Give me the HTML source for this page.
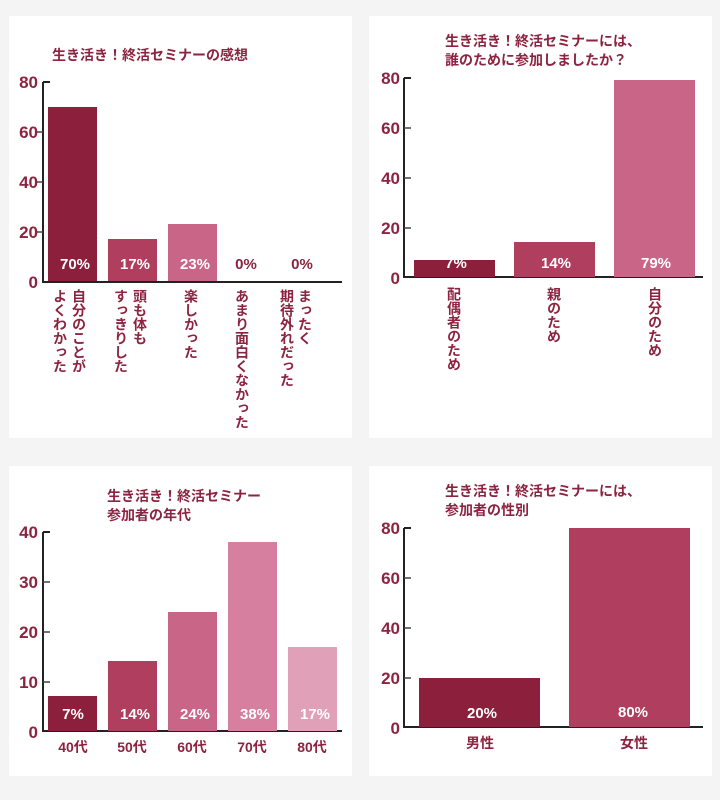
<!DOCTYPE html>
<html><head><meta charset="utf-8"><style>
html,body{margin:0;padding:0;background:#f4f4f4}
svg{display:block}
text{font-family:"Liberation Sans","Noto Sans CJK JP",sans-serif;font-weight:bold}
.t{fill:#8c2340;font-size:14px}
.y{fill:#8c2340;font-size:17px;text-anchor:end}
.p{fill:#fff;font-size:15px;text-anchor:middle}
.v{fill:#8c2340;font-size:14px;writing-mode:vertical-rl;glyph-orientation-vertical:0}
.c{fill:#8c2340;font-size:14px;text-anchor:middle}
</style></head><body>
<svg width="720" height="800" viewBox="0 0 720 800">
<rect x="9" y="16" width="343" height="422" fill="#fff"/>
<rect x="369" y="16" width="343" height="422" fill="#fff"/>
<rect x="9" y="466" width="343" height="310" fill="#fff"/>
<rect x="369" y="466" width="343" height="310" fill="#fff"/>

<!-- Chart 1 -->
<text class="t" x="52" y="60">生き活き！終活セミナーの感想</text>
<g fill="none" stroke="#222" stroke-width="2"><path d="M43,82V282H342"/><path d="M43,82h7" /></g>
<g stroke="#444" stroke-width="1.5"><path d="M37,132h6M37,182h6M37,232h6"/></g>
<text class="y" x="38" y="88">80</text><text class="y" x="38" y="138">60</text><text class="y" x="38" y="188">40</text><text class="y" x="38" y="238">20</text><text class="y" x="38" y="288">0</text>
<rect x="48" y="107" width="49" height="174" fill="#8c1f3c"/>
<rect x="108" y="239" width="49" height="42" fill="#b03e5e"/>
<rect x="168" y="224" width="49" height="57" fill="#c96586"/>
<text class="p" x="75" y="269">70%</text><text class="p" x="135" y="269">17%</text><text class="p" x="195" y="269">23%</text>
<text class="p" x="246" y="269" style="fill:#8c2340">0%</text><text class="p" x="302" y="269" style="fill:#8c2340">0%</text>
<text class="v" x="79" y="289">自分のことが</text>
<text class="v" x="60" y="289">よくわかった</text>
<text class="v" x="140" y="289">頭も体も</text>
<text class="v" x="121" y="289">すっきりした</text>
<text class="v" x="191" y="289">楽しかった</text>
<text class="v" x="242" y="289">あまり面白くなかった</text>
<text class="v" x="305" y="289">まったく</text>
<text class="v" x="287" y="289">期待外れだった</text>

<!-- Chart 2 -->
<text class="t" x="445" y="46">生き活き！終活セミナーには、</text>
<text class="t" x="445" y="65">誰のために参加しましたか？</text>
<g fill="none" stroke="#222" stroke-width="2"><path d="M404,78V277H703"/><path d="M404,78h7"/></g>
<g stroke="#444" stroke-width="1.5"><path d="M404,128h7M404,178h7M404,228h7"/></g>
<text class="y" x="400" y="84">80</text><text class="y" x="400" y="134">60</text><text class="y" x="400" y="184">40</text><text class="y" x="400" y="234">20</text><text class="y" x="400" y="284">0</text>
<rect x="414" y="260" width="81" height="17" fill="#8c1f3c"/>
<rect x="514" y="242" width="81" height="35" fill="#b03e5e"/>
<rect x="614" y="80" width="81" height="197" fill="#c96586"/>
<text class="p" x="456" y="268">7%</text><text class="p" x="556" y="268">14%</text><text class="p" x="656" y="268">79%</text>
<text class="v" x="454" y="287">配偶者のため</text>
<text class="v" x="554" y="287">親のため</text>
<text class="v" x="655" y="287">自分のため</text>

<!-- Chart 3 -->
<text class="t" x="107" y="501">生き活き！終活セミナー</text>
<text class="t" x="107" y="520">参加者の年代</text>
<g fill="none" stroke="#222" stroke-width="2"><path d="M43,532V731H342"/><path d="M43,532h7"/></g>
<g stroke="#444" stroke-width="1.5"><path d="M43,582h7M43,632h7M43,682h7"/></g>
<text class="y" x="38" y="538">40</text><text class="y" x="38" y="588">30</text><text class="y" x="38" y="638">20</text><text class="y" x="38" y="688">10</text><text class="y" x="38" y="738">0</text>
<rect x="48" y="696" width="49" height="35" fill="#8c1f3c"/>
<rect x="108" y="661" width="49" height="70" fill="#b03e5e"/>
<rect x="168" y="612" width="49" height="119" fill="#c96586"/>
<rect x="228" y="542" width="49" height="189" fill="#d67f9f"/>
<rect x="288" y="647" width="49" height="84" fill="#e0a0b8"/>
<text class="p" x="73" y="719">7%</text><text class="p" x="135" y="719">14%</text><text class="p" x="195" y="719">24%</text><text class="p" x="255" y="719">38%</text><text class="p" x="315" y="719">17%</text>
<text class="c" x="73" y="752">40代</text><text class="c" x="132" y="752">50代</text><text class="c" x="192" y="752">60代</text><text class="c" x="252" y="752">70代</text><text class="c" x="312" y="752">80代</text>

<!-- Chart 4 -->
<text class="t" x="445" y="496">生き活き！終活セミナーには、</text>
<text class="t" x="445" y="515">参加者の性別</text>
<g fill="none" stroke="#222" stroke-width="2"><path d="M404,528V727H703"/><path d="M404,528h7"/></g>
<g stroke="#444" stroke-width="1.5"><path d="M404,578h7M404,628h7M404,678h7"/></g>
<text class="y" x="400" y="534">80</text><text class="y" x="400" y="584">60</text><text class="y" x="400" y="634">40</text><text class="y" x="400" y="684">20</text><text class="y" x="400" y="734">0</text>
<rect x="419" y="678" width="121" height="49" fill="#8c1f3c"/>
<rect x="569" y="528" width="121" height="199" fill="#b03e5e"/>
<text class="p" x="482" y="718">20%</text><text class="p" x="633" y="717">80%</text>
<text class="c" x="480" y="748">男性</text><text class="c" x="634" y="748">女性</text>
</svg>
</body></html>
